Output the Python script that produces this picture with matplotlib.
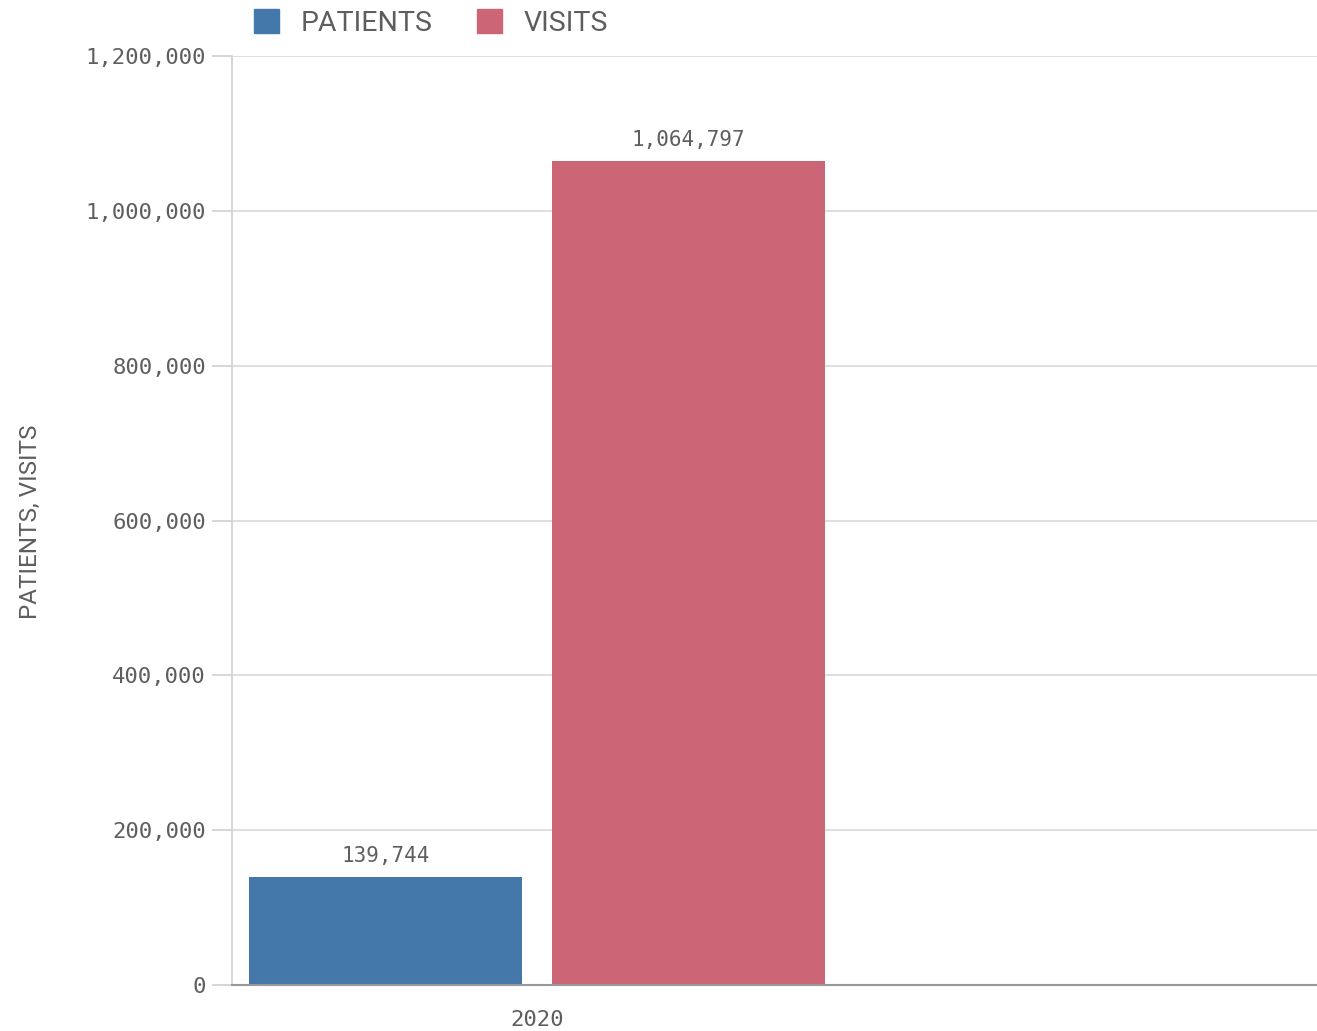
import matplotlib
matplotlib.use("Agg")
import matplotlib.pyplot as plt
from matplotlib.patches import Patch
from matplotlib.ticker import FuncFormatter

categories = ["2020"]
series_names = ["PATIENTS", "VISITS"]
patients = [139744]
visits = [1064797]
colors = ["#4477aa", "#cc6677"]
yticks = [0, 200000, 400000, 600000, 800000, 1000000, 1200000]

fig = plt.figure(figsize=(13.17, 10.31), dpi=100)
ax = fig.add_axes([232/1317, 1-985/1031, 1085/1317, (985-56)/1031])

bw = 0.4475
off = 0.248
xs = list(range(len(categories)))
b1 = ax.bar([x - off for x in xs], patients, width=bw, color=colors[0], zorder=3)
b2 = ax.bar([x + off for x in xs], visits, width=bw, color=colors[1], zorder=3)

mono = "DejaVu Sans Mono"
txtc = "#5e5e5e"
for bars, vals in ((b1, patients), (b2, visits)):
    for r, v in zip(bars, vals):
        ax.annotate(f"{v:,}", (r.get_x() + r.get_width()/2, v), xytext=(0, 8),
                    textcoords="offset points", ha="center", va="bottom",
                    fontsize=15, family=mono, color=txtc)

ax.set_xlim(-0.5, 1085/610 - 0.5)
ax.set_ylim(0, 1200000)
ax.set_yticks(yticks)
ax.yaxis.set_major_formatter(FuncFormatter(lambda v, p: f"{int(v):,}"))
ax.set_xticks(xs)
ax.set_xticklabels(categories)
for lab in ax.get_yticklabels() + ax.get_xticklabels():
    lab.set_family(mono)
    lab.set_fontsize(16)
    lab.set_color(txtc)
ax.tick_params(axis="y", length=14.4, width=1.2, color="#d0d0d0", pad=4.5)
ax.tick_params(axis="x", length=0, pad=18)
ax.grid(axis="y", color="#d9d9d9", linewidth=1.2, zorder=0)
for s in ("top", "right"):
    ax.spines[s].set_visible(False)
ax.spines["left"].set_color("#d0d0d0")
ax.spines["left"].set_linewidth(1.2)
ax.spines["bottom"].set_color("#999999")
ax.spines["bottom"].set_linewidth(1.5)
ax.spines["bottom"].set_zorder(4)

fig.text(30/1317, 1-522/1031, "PATIENTS, VISITS", rotation=90, ha="center", va="center",
         fontsize=17.5, family="Roboto", color=txtc)

handles = [Patch(color=c) for c in colors]
leg = fig.legend(handles, series_names, loc="center left", bbox_to_anchor=(228/1317, 1-23/1031),
                 ncol=2, frameon=False, prop={"family": "Roboto", "size": 20.5},
                 handlelength=0.9, handleheight=0.9, handletextpad=0.75, columnspacing=1.55,
                 labelcolor=txtc)

fig.savefig("out.png", dpi=100, facecolor="white")
